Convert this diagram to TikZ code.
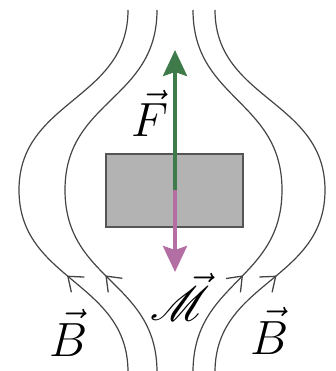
\documentclass[tikz,border=0pt]{standalone}
\usepackage{mathrsfs}
\usetikzlibrary{arrows.meta,decorations.markings}
\definecolor{fgreen}{HTML}{3F7A4B}
\definecolor{mpink}{HTML}{B36EA3}
\definecolor{boxfill}{HTML}{B3B3B3}
\definecolor{boxline}{HTML}{555555}
\definecolor{fieldline}{HTML}{444444}
\tikzset{
  barb/.tip={Straight Barb[length=13pt,width=20pt,line width=1.3pt]},
  field/.style={draw=fieldline, line width=1.2pt,
    postaction={decorate},
    decoration={markings, mark=at position 0.27 with {\arrow[fieldline]{barb}}}},
  magnet/.style={draw=boxline, fill=boxfill, line width=1.4pt},
  vecarrow/.style={line width=4pt, -{Stealth[length=26pt,width=24pt,inset=4pt]}},
  lbl/.style={inner sep=0pt, anchor=base, font=\Huge, scale=1.93, transform shape}
}
\begin{document}
\begin{tikzpicture}[x=1pt,y=-1pt]
\useasboundingbox (0,0) rectangle (335,371);
\clip (0,0) rectangle (335,371);
% field lines (drawn bottom to top)
\coordinate (l1b) at (128,372); \coordinate (l1m) at (19,190); \coordinate (l1t) at (128,10);
\coordinate (l2b) at (157,372); \coordinate (l2m) at (65,190); \coordinate (l2t) at (157,10);
\coordinate (r1b) at (193,372); \coordinate (r1m) at (282,190); \coordinate (r1t) at (193,10);
\coordinate (r2b) at (215,372); \coordinate (r2m) at (325,190); \coordinate (r2t) at (215,10);
\path[field] (l1b) .. controls (128,281) and (19,281) .. (l1m) .. controls (19,100) and (128,100) .. (l1t);
\path[field] (l2b) .. controls (157,281) and (65,281) .. (l2m) .. controls (65,100) and (157,100) .. (l2t);
\path[field] (r1b) .. controls (193,281) and (282,281) .. (r1m) .. controls (282,100) and (193,100) .. (r1t);
\path[field] (r2b) .. controls (215,281) and (325,281) .. (r2m) .. controls (325,100) and (215,100) .. (r2t);
% magnet
\node[magnet, minimum width=137pt, minimum height=73pt, inner sep=0pt] (box) at (174.5,190.5) {};
\coordinate (c) at (175,190);
\coordinate (ftip) at (175,50);
\coordinate (mtip) at (175,272);
\draw[vecarrow, fgreen] (c) -- (ftip);
\draw[vecarrow, mpink] (c) -- (mtip);
% labels
\node[lbl] (F) at (150,137) {$\vec{F}$};
\node[lbl] (M) at (180,320) {$\vec{\mathscr{M}}$};
\node[lbl] (B1) at (69,356) {$\vec{B}$};
\node[lbl] (B2) at (270,354) {$\vec{B}$};
\end{tikzpicture}
\end{document}
